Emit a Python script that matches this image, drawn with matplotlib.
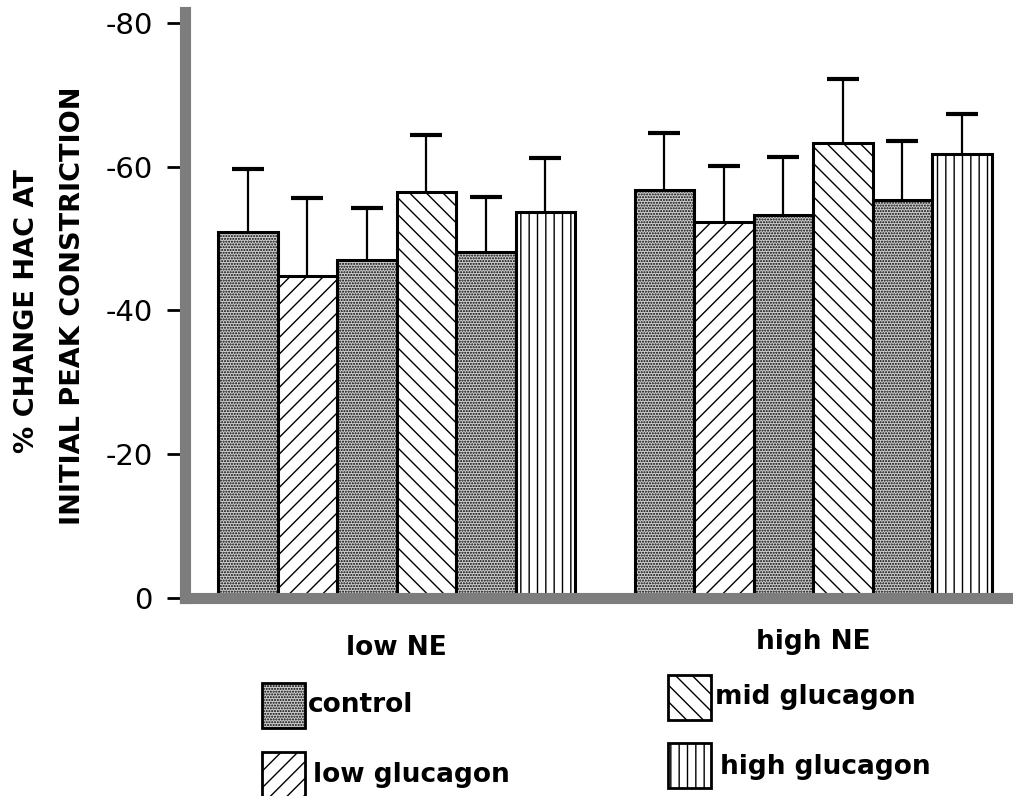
import numpy as np
import matplotlib.pyplot as plt
from matplotlib.patches import Rectangle
from matplotlib.transforms import blended_transform_factory

# valori (asse y invertito, % negativa)
groups = ["low NE", "high NE"]
treatments = ["control", "low glucagon", "control", "mid glucagon", "control", "high glucagon"]
low_ne = [-50.9, -44.8, -47.0, -56.4, -48.1, -53.7]
low_ne_err = [8.7, 10.8, 7.2, 8.0, 7.7, 7.5]
high_ne = [-56.8, -52.3, -53.2, -63.3, -55.3, -61.7]
high_ne_err = [7.9, 7.8, 8.1, 8.9, 8.3, 5.6]
yticks = [0, -20, -40, -60, -80]
legend_items = ["control", "low glucagon", "mid glucagon", "high glucagon"]

hatches = {"control": "......", "low glucagon": "//", "mid glucagon": "\\\\", "high glucagon": "||"}
faces = {"control": "#cfcfcf", "low glucagon": "white", "mid glucagon": "white", "high glucagon": "white"}

W, H = 1013, 796
plt.rcParams['font.family'] = ['DejaVu Sans']
plt.rcParams['hatch.linewidth'] = 1.0

fig = plt.figure(figsize=(W / 100, H / 100), dpi=100)
ax = fig.add_axes([184.5 / W, 1 - 598 / H, (W - 184.5) / W, (598 - 12) / H])

n = len(treatments)
x1 = np.arange(n)
x2 = np.arange(n) + n + 1
for xs, vals, errs in ((x1, low_ne, low_ne_err), (x2, high_ne, high_ne_err)):
    vals = np.array(vals)
    errs = np.array(errs)
    ax.vlines(xs, vals, vals - errs, color='black', lw=1.6, zorder=1)
    ax.hlines(vals - errs, xs - 0.27, xs + 0.27, color='black', lw=3, zorder=1)
    for xi, v, t in zip(xs, vals, treatments):
        ax.bar(xi, v, width=1.0, facecolor=faces[t], edgecolor='black',
               linewidth=2.2, hatch=hatches[t], zorder=2)

ax.set_xlim(-1.063, 12.86)
ax.set_ylim(0, -81.5)

for s in ('top', 'right'):
    ax.spines[s].set_visible(False)
for s in ('left', 'bottom'):
    ax.spines[s].set_color('#7d7d7d')
    ax.spines[s].set_linewidth(8)
    ax.spines[s].set_zorder(3)

ax.set_xticks([])
ax.set_yticks(yticks)
ax.set_yticklabels([str(v) for v in yticks])
ax.tick_params(axis='y', length=13, width=2, direction='out', pad=10, labelsize=21, color='black')

# etichetta asse y su due righe
fig.text(27 / W, 1 - 311 / H, "% CHANGE HAC AT", rotation=90, ha='center', va='center',
         fontsize=19.5, weight='bold')
fig.text(73 / W, 1 - 306 / H, "INITIAL PEAK CONSTRICTION", rotation=90, ha='center', va='center',
         fontsize=19.5, weight='bold')

# nomi dei gruppi
tr = blended_transform_factory(ax.transData, fig.transFigure)
ax.text(x1.mean(), 1 - 648 / H, groups[0], transform=tr, ha='center', va='center',
        fontsize=19, weight='bold')
ax.text(x2.mean(), 1 - 642 / H, groups[1], transform=tr, ha='center', va='center',
        fontsize=19, weight='bold')

# legenda disegnata a mano
box_pos = [(262, 683), (262, 752), (668, 675), (668, 743)]
txt_pos = [(308, 705), (313, 775), (715, 697), (720, 767)]
for lab, (bx, by), (tx, ty) in zip(legend_items, box_pos, txt_pos):
    fig.add_artist(Rectangle((bx / W, 1 - (by + 45) / H), 43 / W, 45 / H, transform=fig.transFigure,
                             facecolor=faces[lab], edgecolor='black', lw=2, hatch=hatches[lab]))
    fig.text(tx / W, 1 - ty / H, lab, ha='left', va='center', fontsize=19, weight='bold')

fig.savefig("out.png", dpi=100)
